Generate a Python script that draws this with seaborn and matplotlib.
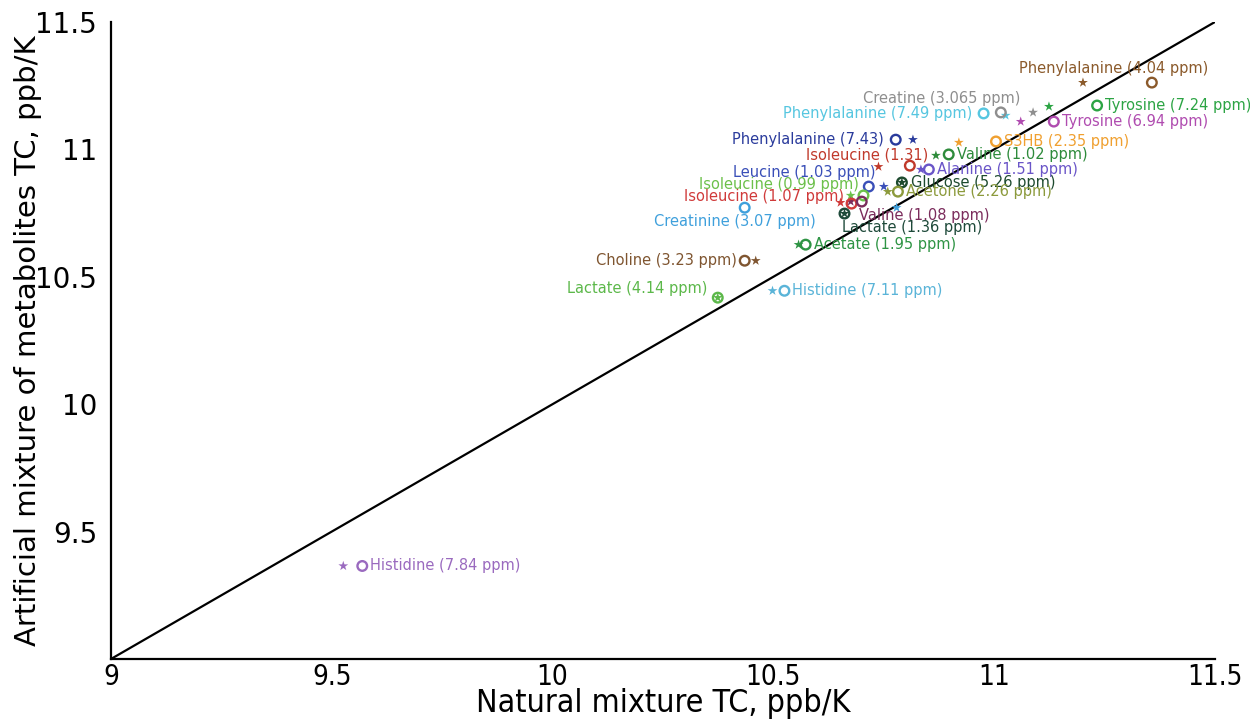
import matplotlib
matplotlib.use("Agg")
import matplotlib.pyplot as plt
import seaborn as sns
import pandas as pd

# metabolite labels
names = [
    "Phenylalanine (4.04 ppm)", "Creatine (3.065 ppm)", "Phenylalanine (7.49 ppm)",
    "Tyrosine (7.24 ppm)", "Tyrosine (6.94 ppm)", "Phenylalanine (7.43)",
    "S3HB (2.35 ppm)", "Isoleucine (1.31)", "Valine (1.02 ppm)",
    "Alanine (1.51 ppm)", "Leucine (1.03 ppm)", "Glucose (5.26 ppm)",
    "Acetone (2.26 ppm)", "Isoleucine (0.99 ppm)", "Isoleucine (1.07 ppm)",
    "Valine (1.08 ppm)", "Creatinine (3.07 ppm)", "Lactate (1.36 ppm)",
    "Acetate (1.95 ppm)", "Choline (3.23 ppm)", "Lactate (4.14 ppm)",
    "Histidine (7.11 ppm)", "Histidine (7.84 ppm)",
]

# circles
natural_circle = [11.357, 11.015, 10.976, 11.233, 11.135, 10.777, 11.004, 10.809, 10.897,
                  10.852, 10.716, 10.791, 10.782, 10.704, 10.677, 10.700, 10.435, 10.661,
                  10.573, 10.435, 10.374, 10.525, 9.569]
artificial_circle = [11.262, 11.145, 11.141, 11.172, 11.109, 11.038, 11.031, 10.936, 10.980,
                     10.921, 10.854, 10.870, 10.834, 10.819, 10.787, 10.795, 10.771, 10.748,
                     10.626, 10.563, 10.418, 10.445, 9.365]

# stars
natural_star = [11.201, 11.088, 11.026, 11.124, 11.060, 10.816, 10.920, 10.738, 10.868,
                10.834, 10.750, 10.791, 10.759, 10.675, 10.652, 10.675, 10.779, 10.661,
                10.557, 10.460, 10.374, 10.498, 9.526]
artificial_star = [11.262, 11.145, 11.133, 11.168, 11.109, 11.038, 11.027, 10.932, 10.976,
                   10.921, 10.854, 10.870, 10.834, 10.819, 10.791, 10.795, 10.771, 10.748,
                   10.626, 10.563, 10.418, 10.445, 9.365]

colors = ["#8b5a2b", "#8e8e8e", "#56c6e0", "#2ca444", "#b04cb0", "#2a3b9c", "#f0a030",
          "#c0392b", "#2e8b3b", "#6a55c8", "#3a4fb8", "#1d4a2e", "#8c9a3c", "#6cc04a",
          "#d03a3a", "#7b2c5c", "#3fa0dc", "#1e4a3a", "#2e9444", "#7f5530", "#5cb84a",
          "#5ab4d8", "#9a6abf"]

# label placement: (ha, dx px, dy px) relative to the circle
label_pos = [("center", -38, 14), ("right", 20, 14), ("right", -11, 0), ("left", 8, 0),
             ("left", 8, 0), ("right", -12, 0), ("left", 8, 0), ("right", 18, 11),
             ("left", 8, 0), ("left", 8, 0), ("right", 7, 14), ("left", 9, 0),
             ("left", 8, 0), ("right", -5, 11), ("right", -8, 7), ("left", -3, -14),
             ("center", -10, -14), ("left", -2, -14), ("left", 8, 0), ("right", -8, 0),
             ("right", -10, 9), ("left", 8, 0), ("left", 8, 0)]

df = pd.DataFrame({"name": names, "nat_c": natural_circle, "art_c": artificial_circle,
                   "nat_s": natural_star, "art_s": artificial_star})
palette = dict(zip(names, colors))

sns.set_style("white")
plt.rcParams["font.family"] = ["DejaVu Sans"]
plt.rcParams["text.color"] = "black"
plt.rcParams["axes.labelcolor"] = "black"

fig = plt.figure(figsize=(12.5, 7.22), dpi=100)
ax = fig.add_axes([0.0888, 0.0873, 0.8832, 0.8823])

ax.plot([9, 11.5], [9, 11.5], color="black", lw=1.6, zorder=1)

sns.scatterplot(data=df, x="nat_s", y="art_s", hue="name", palette=palette, marker="*",
                s=55, linewidth=0, legend=False, ax=ax, zorder=3)
sns.scatterplot(data=df, x="nat_c", y="art_c", hue="name", palette=palette, marker="o",
                s=48, legend=False, ax=ax, zorder=4)
circles = ax.collections[-1]
fc = circles.get_facecolors()
circles.set_edgecolors(fc)
circles.set_facecolors("none")
circles.set_linewidths(1.7)

for name, xc, yc, col, (ha, dx, dy) in zip(names, natural_circle, artificial_circle, colors, label_pos):
    ax.annotate(name, (xc, yc), xytext=(dx, dy), textcoords="offset pixels",
                ha=ha, va="center", color=col, fontsize=10.5, zorder=5)

ax.set_xlim(9, 11.5)
ax.set_ylim(9, 11.5)
ax.set_xticks([9, 9.5, 10, 10.5, 11, 11.5])
ax.set_xticklabels(["9", "9.5", "10", "10.5", "11", "11.5"])
ax.set_yticks([9.5, 10, 10.5, 11, 11.5])
ax.set_yticklabels(["9.5", "10", "10.5", "11", "11.5"])

for side in ["top", "right"]:
    ax.spines[side].set_visible(False)
for side in ["left", "bottom"]:
    ax.spines[side].set_linewidth(1.6)
    ax.spines[side].set_color("black")

ax.tick_params(axis="both", direction="in", length=8, width=1.4, colors="black")
ax.tick_params(axis="y", labelsize=20, pad=10)
ax.tick_params(axis="x", labelsize=20, pad=3)
for lab in ax.get_xticklabels():
    lab.set_fontstretch("condensed")

ax.set_xlabel("Natural mixture TC, ppb/K", fontsize=23, labelpad=-2, fontstretch="condensed")
ax.set_ylabel("Artificial mixture of metabolites TC, ppb/K", fontsize=21, labelpad=-5)

fig.savefig("out.png", dpi=100)
